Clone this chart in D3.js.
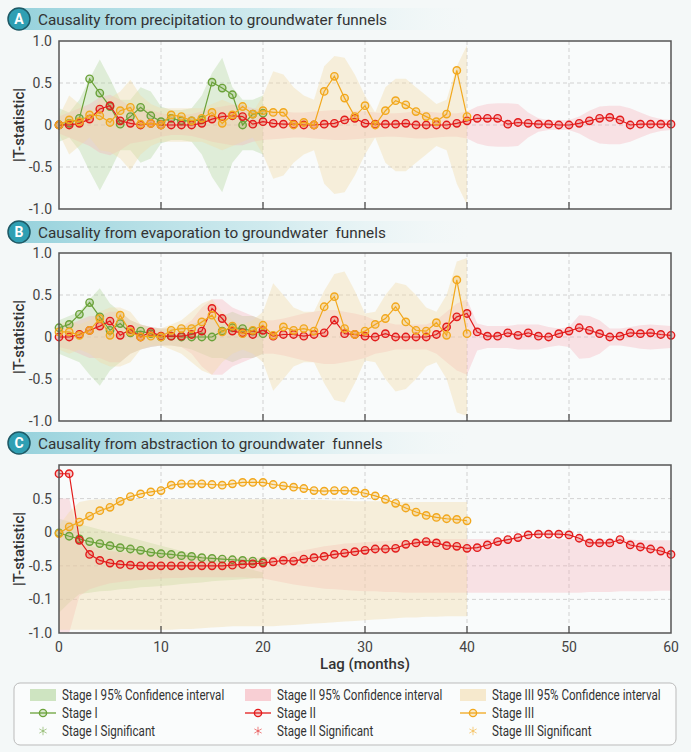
<!DOCTYPE html>
<html>
<head>
<meta charset="utf-8">
<script src="https://d3js.org/d3.v7.min.js"></script>
<style>
  body { margin: 0; background: #f4f8f8; }
  svg { display: block; font-family: Roboto, "Noto Sans", sans-serif; }
</style>
</head>
<body>
<svg width="691" height="752"></svg>

<script>
  // ---- data (|T-statistic| per lag, months) ----
  const titles = ['Causality from precipitation to groundwater funnels',
                  'Causality from evaporation to groundwater  funnels',
                  'Causality from abstraction to groundwater  funnels'];
  const letters = ['A', 'B', 'C'];

  // panel A
  const aStage1 = [0,0.02,0.08,0.55,0.38,0.22,0.01,0.1,0.21,0.11, 0.04,0.08,0.05,0.05,0.06,0.51,0.44,0.36,0,0.13, 0.14];
  const aStage2 = [0,0,0.02,0.07,0.19,0.23,0.05,0.02,0,0.02, 0,0,0,0,0.02,0.07,0.1,0.11,0.1,0.01,
                   0.04,0.02,0.01,0.01,0,0,0.01,0.02,0.06,0.08, 0.02,0.01,0.01,0.01,0.02,0,0,0,0,0.02,
                   0.05,0.08,0.08,0.08,0.01,0.03,0.02,0.01,0.01,0, 0,0.02,0.05,0.08,0.09,0.06,0,0.01,0.01,0.01, 0.01];
  const aStage3 = [0,0.06,0.04,0.12,0.11,0.03,0.17,0.21,0.01,0.02, 0,0.12,0.1,0.05,0.08,0.15,0.02,0.12,0.22,0.13,
                   0.17,0.15,0.15,0,0.03,0,0.4,0.58,0.32,0.1, 0.23,0,0.17,0.29,0.24,0.16,0.1,0.04,0.13,0.65, 0.1];
  // 95% CI half widths
  const aCI1 = [0.2,0.15,0.3,0.55,0.78,0.55,0.3,0.3,0.45,0.4, 0.22,0.18,0.18,0.2,0.35,0.62,0.8,0.45,0.3,0.3, 0.35];
  const aCI2 = [0.1,0.15,0.2,0.25,0.33,0.36,0.3,0.22,0.2,0.18, 0.14,0.12,0.12,0.13,0.16,0.2,0.22,0.24,0.24,0.2,
                0.18,0.17,0.16,0.15,0.15,0.16,0.17,0.18,0.18,0.17, 0.16,0.15,0.14,0.14,0.15,0.16,0.16,0.15,0.14,0.14,
                0.16,0.22,0.25,0.26,0.26,0.25,0.15,0.08,0.06,0.06, 0.06,0.1,0.17,0.22,0.23,0.23,0.2,0.15,0.1,0.07, 0.06];
  const aCI3 = [0.1,0.35,0.25,0.15,0.3,0.32,0.4,0.54,0.35,0.25, 0.2,0.2,0.2,0.2,0.2,0.25,0.3,0.25,0.2,0.15,
                0.35,0.64,0.6,0.45,0.35,0.3,0.7,0.82,0.8,0.6, 0.35,0.15,0.45,0.55,0.55,0.45,0.35,0.25,0.3,0.7, 0.95];

  // panel B
  const bStage1 = [0.11,0.15,0.27,0.41,0.24,0.08,0.16,0.05,0.07,0.04, 0,0.01,0,0,0,0,0.07,0.11,0.1,0.07, 0.04];
  const bStage2 = [0,0,0.03,0.08,0.13,0.19,0.02,0.09,0,0.06, 0.01,0.01,0.01,0.03,0.07,0.34,0.22,0.07,0.05,0.03,
                   0.08,0.01,0.03,0.03,0.01,0.03,0.05,0.2,0.04,0.03, 0.01,0,0.04,0,0,0,0,0.03,0.12,0.24,
                   0.28,0.06,0.01,0.01,0.05,0.02,0.05,0.01,0,0.04, 0.07,0.11,0.08,0.04,0,0.01,0.05,0.04,0.05,0.03, 0.02];
  const bStage3 = [0.06,0.06,0.02,0.08,0.22,0.02,0.26,0.06,0,0.01, 0,0.08,0.1,0.1,0.18,0.26,0.06,0.13,0.04,0.08,
                   0.14,0.02,0.12,0.08,0.1,0.07,0.36,0.48,0.1,0.03, 0.07,0.15,0.22,0.36,0.18,0.08,0.07,0.17,0.02,0.68, 0.04];
  const bCI1 = [0.2,0.25,0.3,0.45,0.58,0.4,0.3,0.2,0.15,0.12, 0.1,0.1,0.12,0.15,0.2,0.25,0.25,0.3,0.25,0.25, 0.2];
  const bCI2 = [0.12,0.15,0.2,0.25,0.25,0.3,0.3,0.2,0.15,0.12, 0.1,0.1,0.12,0.2,0.35,0.45,0.45,0.35,0.3,0.25,
                0.2,0.2,0.22,0.25,0.28,0.3,0.32,0.32,0.3,0.28, 0.25,0.2,0.18,0.15,0.15,0.15,0.15,0.2,0.3,0.4,
                0.45,0.16,0.13,0.13,0.13,0.15,0.15,0.15,0.12,0.1, 0.12,0.26,0.25,0.2,0.1,0.1,0.12,0.14,0.15,0.14, 0.13];
  const bCI3 = [0.15,0.2,0.15,0.2,0.3,0.35,0.35,0.3,0.15,0.1, 0.1,0.15,0.2,0.3,0.4,0.45,0.3,0.2,0.15,0.2,
                0.3,0.64,0.5,0.35,0.3,0.3,0.55,0.75,0.78,0.55, 0.28,0.3,0.5,0.65,0.62,0.5,0.35,0.3,0.5,0.9, 0.94];

  // panel C (axis in its own units, labels below)
  const cStage1 = [-0.01,-0.06,-0.1,-0.14,-0.17,-0.2,-0.23,-0.25,-0.27,-0.3, -0.32,-0.33,-0.35,-0.36,-0.38,-0.39,-0.4,-0.41,-0.42,-0.43, -0.44];
  const cStage2 = [0.87,0.87,-0.12,-0.33,-0.42,-0.46,-0.48,-0.49,-0.5,-0.5, -0.5,-0.5,-0.5,-0.5,-0.5,-0.5,-0.5,-0.49,-0.48,-0.47,
                   -0.46,-0.44,-0.42,-0.43,-0.4,-0.38,-0.36,-0.33,-0.31,-0.29, -0.27,-0.25,-0.25,-0.24,-0.18,-0.16,-0.14,-0.16,-0.2,-0.21,
                   -0.24,-0.23,-0.19,-0.14,-0.11,-0.08,-0.04,-0.03,-0.03,-0.03, -0.04,-0.09,-0.16,-0.16,-0.16,-0.11,-0.19,-0.22,-0.25,-0.28, -0.33];
  const cStage3 = [-0.02,0.08,0.15,0.24,0.32,0.37,0.46,0.53,0.57,0.6, 0.62,0.7,0.72,0.72,0.72,0.71,0.7,0.72,0.74,0.74,
                   0.74,0.71,0.69,0.67,0.65,0.62,0.61,0.62,0.62,0.61, 0.58,0.54,0.49,0.43,0.36,0.3,0.25,0.22,0.2,0.19, 0.17];
  const cCI1Hi = [0.2,0.16,0.12,0.08,0.04,0,-0.04,-0.08,-0.12,-0.16, -0.2,-0.24,-0.28,-0.32,-0.36,-0.4,-0.44,-0.48,-0.52,-0.56, -0.6];
  const cCI1Lo = [-1.2,-1.05,-0.92,-0.9,-0.88,-0.87,-0.85,-0.84,-0.82,-0.81, -0.8,-0.79,-0.77,-0.76,-0.75,-0.73,-0.72,-0.71,-0.7,-0.69, -0.68];
  const cCI2Hi = [0.5,0.5,-0.1,-0.2,-0.25,-0.28,-0.3,-0.31,-0.32,-0.33, -0.34,-0.35,-0.35,-0.36,-0.36,-0.37,-0.37,-0.38,-0.38,-0.38,
                  -0.38,-0.36,-0.33,-0.3,-0.27,-0.24,-0.21,-0.19,-0.17,-0.16, -0.15,-0.14,-0.13,-0.12,-0.12,-0.11,-0.11,-0.1,-0.1,-0.1,
                  -0.1,-0.1,-0.1,-0.1,-0.1,-0.1,-0.1,-0.1,-0.1,-0.1, -0.1,-0.1,-0.1,-0.1,-0.11,-0.11,-0.11,-0.12,-0.12,-0.12, -0.12];
  const cCI2Lo = [-1.5,-1.5,-0.95,-0.85,-0.8,-0.76,-0.74,-0.72,-0.71,-0.7, -0.69,-0.68,-0.68,-0.67,-0.67,-0.67,-0.67,-0.67,-0.67,-0.68,
                  -0.69,-0.72,-0.75,-0.78,-0.8,-0.82,-0.84,-0.85,-0.86,-0.87, -0.88,-0.88,-0.89,-0.89,-0.9,-0.9,-0.9,-0.9,-0.9,-0.9,
                  -0.9,-0.9,-0.9,-0.9,-0.9,-0.9,-0.9,-0.9,-0.9,-0.9, -0.9,-0.9,-0.89,-0.89,-0.89,-0.88,-0.88,-0.88,-0.88,-0.87, -0.87];
  const cCI3Hi = [0.1,0.3,0.45,0.48,0.49,0.49,0.49,0.49,0.49,0.49, 0.49,0.49,0.49,0.49,0.49,0.49,0.49,0.49,0.49,0.49,
                  0.49,0.49,0.49,0.49,0.48,0.48,0.48,0.47,0.47,0.46, 0.46,0.46,0.46,0.45,0.45,0.45,0.45,0.45,0.45,0.45, 0.45];
  const cCI3Lo = [-1.45,-1.45,-1.45,-1.45,-1.45,-1.45,-1.45,-1.45,-1.45,-1.45, -1.45,-1.45,-1.44,-1.44,-1.43,-1.42,-1.41,-1.4,-1.4,-1.4,
                  -1.4,-1.4,-1.39,-1.38,-1.37,-1.36,-1.35,-1.34,-1.33,-1.32, -1.31,-1.3,-1.29,-1.28,-1.27,-1.27,-1.26,-1.26,-1.25,-1.25, -1.25];

  const yTicksAB = [1, 0.5, 0, -0.5, -1];
  const yLabelsAB = ['1.0', '0.5', '0', '-0.5', '-1.0'];
  const yTicksC = [0.5, 0, -0.5, -1, -1.5];
  const yLabelsC = ['0.5', '0', '-0.5', '-0.1', '-1.0'];
  const xTicks = [0, 10, 20, 30, 40, 50, 60];

  const legendNames = ['Stage I', 'Stage II', 'Stage III'];

  // ---- styling ----
  const colors = ['#6ba23a', '#e31b1b', '#f2a81d'];
  const bandFill = ['#a9cf90', '#f5aab3', '#f3d9a6'];
  const bandOpacity = [0.32, 0.32, 0.38];

  const svg = d3.select('svg');
  const margin = {left: 59, right: 671};

  const x = d3.scaleLinear().domain([0, 60]).range([margin.left, margin.right]);

  const panels = [
    {top: 41, titleY: 19, s: [aStage1, aStage2, aStage3],
     band: [aCI1, aCI2, aCI3].map(w => w.map(v => [-v, v])),
     domain: [-1, 1], ticks: yTicksAB, labels: yLabelsAB, xlabels: false},
    {top: 253, titleY: 232, s: [bStage1, bStage2, bStage3],
     band: [bCI1, bCI2, bCI3].map(w => w.map(v => [-v, v])),
     domain: [-1, 1], ticks: yTicksAB, labels: yLabelsAB, xlabels: false},
    {top: 465, titleY: 443, s: [cStage1, cStage2, cStage3],
     band: [[cCI1Lo, cCI1Hi], [cCI2Lo, cCI2Hi], [cCI3Lo, cCI3Hi]].map(([lo, hi]) => lo.map((v, i) => [v, hi[i]])),
     domain: [-1.5, 1], ticks: yTicksC, labels: yLabelsC, xlabels: true}
  ];
  const plotH = 168;

  // gradient for title bars
  const defs = svg.append('defs');
  const grad = defs.append('linearGradient').attr('id', 'tbar');
  grad.append('stop').attr('offset', '0%').attr('stop-color', '#7fc8d5').attr('stop-opacity', 0.8);
  grad.append('stop').attr('offset', '55%').attr('stop-color', '#b2dfe6').attr('stop-opacity', 0.55);
  grad.append('stop').attr('offset', '100%').attr('stop-color', '#e3f3f5').attr('stop-opacity', 0);

  panels.forEach((p, k) => {
    const y = d3.scaleLinear().domain(p.domain).range([p.top + plotH, p.top]);
    const g = svg.append('g');

    // title
    g.append('rect').attr('x', 19).attr('y', p.titleY - 11).attr('width', 450).attr('height', 22)
      .attr('fill', 'url(#tbar)');
    g.append('circle').attr('cx', 19).attr('cy', p.titleY).attr('r', 11)
      .attr('fill', '#2f9fb3').attr('stroke', '#1f5a66').attr('stroke-width', 1.5);
    g.append('text').attr('x', 19).attr('y', p.titleY + 5).attr('text-anchor', 'middle')
      .attr('fill', '#fff').attr('font-size', 14).attr('font-weight', 700).text(letters[k]);
    g.append('text').attr('x', 38).attr('y', p.titleY + 5.5).attr('fill', '#333')
      .attr('font-size', 15.3).style('white-space', 'pre').text(titles[k]);

    // plot background
    g.append('rect').attr('x', margin.left).attr('y', p.top)
      .attr('width', margin.right - margin.left).attr('height', plotH).attr('fill', '#f9fbfb');

    // grid
    g.selectAll('.gx').data(xTicks.slice(1, -1)).enter().append('line')
      .attr('x1', d => x(d)).attr('x2', d => x(d)).attr('y1', p.top).attr('y2', p.top + plotH)
      .attr('stroke', '#c8c8c8').attr('stroke-dasharray', '4,3').attr('stroke-width', 0.8);
    g.selectAll('.gy').data(p.ticks.filter(t => t > p.domain[0] && t < p.domain[1])).enter().append('line')
      .attr('x1', margin.left).attr('x2', margin.right).attr('y1', d => y(d)).attr('y2', d => y(d))
      .attr('stroke', '#c8c8c8').attr('stroke-dasharray', '4,3').attr('stroke-width', 0.8);

    // confidence bands
    p.band.forEach((b, i) => {
      const area = d3.area().x((d, j) => x(j)).y0(d => y(d[0])).y1(d => y(d[1]));
      g.append('path').attr('d', area(b)).attr('fill', bandFill[i]).attr('opacity', bandOpacity[i]);
    });

    // series: green, red, orange
    [0, 1, 2].forEach(i => {
      const line = d3.line().x((d, j) => x(j)).y(d => y(d));
      g.append('path').attr('d', line(p.s[i])).attr('fill', 'none')
        .attr('stroke', colors[i]).attr('stroke-width', 1.2);
      g.selectAll('.pt' + i).data(p.s[i]).enter().append('circle')
        .attr('cx', (d, j) => x(j)).attr('cy', d => y(d)).attr('r', 3.7)
        .attr('fill', colors[i]).attr('fill-opacity', 0.22)
        .attr('stroke', colors[i]).attr('stroke-width', 1.4);
    });

    // frame and ticks
    g.append('rect').attr('x', margin.left).attr('y', p.top)
      .attr('width', margin.right - margin.left).attr('height', plotH)
      .attr('fill', 'none').attr('stroke', '#555').attr('stroke-width', 1.5);
    g.selectAll('.tx').data(xTicks.slice(1, -1)).enter().append('line')
      .attr('x1', d => x(d)).attr('x2', d => x(d))
      .attr('y1', p.top + plotH).attr('y2', p.top + plotH - 7)
      .attr('stroke', '#444').attr('stroke-width', 1.2);

    g.selectAll('.yl').data(p.ticks).enter().append('text')
      .attr('x', 52).attr('y', d => y(d) + 5).attr('text-anchor', 'end')
      .attr('font-size', 14).attr('fill', '#444').text((d, j) => p.labels[j]);

    g.append('text')
      .attr('transform', `translate(24,${p.top + plotH / 2}) rotate(-90)`)
      .attr('text-anchor', 'middle').attr('font-size', 15).attr('font-weight', 500)
      .attr('fill', '#333').text('|T-statistic|');

    if (p.xlabels) {
      g.selectAll('.xl').data(xTicks).enter().append('text')
        .attr('x', d => x(d)).attr('y', p.top + plotH + 19).attr('text-anchor', 'middle')
        .attr('font-size', 14).attr('fill', '#444').text(d => d);
      g.append('text').attr('x', 365).attr('y', p.top + plotH + 36).attr('text-anchor', 'middle')
        .attr('font-size', 15).attr('font-weight', 500).attr('fill', '#333').text('Lag (months)');
    }
  });

  // ---- legend ----
  const lg = svg.append('g');
  lg.append('rect').attr('x', 14).attr('y', 683).attr('width', 662).attr('height', 62).attr('rx', 6)
    .attr('fill', '#fafcfc').attr('stroke', '#bbb').attr('stroke-width', 1);
  const colX = [30, 245, 460];
  const rowY = [695, 713, 731];
  colX.forEach((cx, i) => {
    lg.append('rect').attr('x', cx).attr('y', rowY[0] - 6).attr('width', 26).attr('height', 12)
      .attr('fill', bandFill[i]).attr('opacity', 0.55);
    lg.append('line').attr('x1', cx).attr('x2', cx + 26).attr('y1', rowY[1]).attr('y2', rowY[1])
      .attr('stroke', colors[i]).attr('stroke-width', 1.3);
    lg.append('circle').attr('cx', cx + 13).attr('cy', rowY[1]).attr('r', 3.6)
      .attr('fill', colors[i]).attr('fill-opacity', 0.22).attr('stroke', colors[i]).attr('stroke-width', 1.4);
    lg.append('path').attr('d', d3.symbol(d3.symbolAsterisk, 50)())
      .attr('transform', `translate(${cx + 13},${rowY[2]})`)
      .attr('fill', 'none').attr('stroke', colors[i]).attr('stroke-opacity', 0.55).attr('stroke-width', 1);
    const labels = [legendNames[i] + ' 95% Confidence interval', legendNames[i], legendNames[i] + ' Significant'];
    labels.forEach((t, r) => {
      lg.append('text').attr('transform', `translate(${cx + 32},${rowY[r] + 5}) scale(0.83,1)`)
        .attr('font-size', 14).attr('fill', '#333').text(t);
    });
  });
</script>
</body>
</html>
